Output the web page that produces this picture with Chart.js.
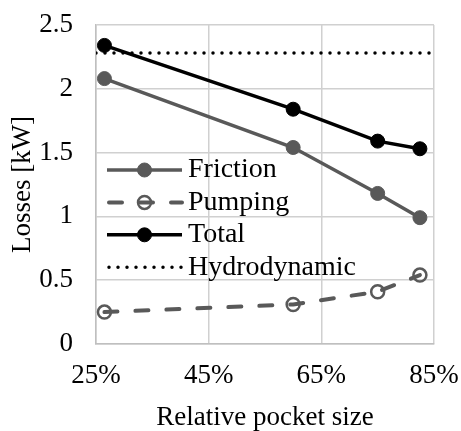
<!DOCTYPE html>
<html lang="en">
<head>
    <meta charset="UTF-8">
    <title>Losses vs relative pocket size</title>
    <style>
        html, body {
            margin: 0;
            padding: 0;
            background: #fff;
        }
        #wrap {
            width: 461px;
            height: 431px;
        }
    </style>
    <script src="https://cdn.jsdelivr.net/npm/chart.js"></script>
</head>
<body>
    <div id="wrap"><canvas id="lossChart" width="461" height="431"></canvas></div>
    <script>
        // values (x in %, y in kW)
        const pocketSize = [26.5, 60, 75, 82.5];
        const friction = [2.08, 1.54, 1.18, 0.99];
        const pumping = [0.25, 0.31, 0.41, 0.54];
        const total = [2.34, 1.84, 1.59, 1.53];
        const hydroX = [25, 85];
        const hydrodynamic = [2.28, 2.28];
        const seriesNames = ['Friction', 'Pumping', 'Total', 'Hydrodynamic'];
        const xTicks = [25, 45, 65, 85];

        const FONT = "'Liberation Serif', 'Times New Roman', serif";
        const pts = (xs, ys) => xs.map((x, i) => ({ x: x, y: ys[i] }));

        // keep the plot box where the original has it
        function noScalePadding(scale) {
            scale.paddingTop = 0;
            scale.paddingBottom = 0;
            scale.paddingLeft = 0;
            scale.paddingRight = 0;
        }

        // legend drawn inside the plot area, like the original
        const innerLegend = {
            id: 'innerLegend',
            afterDraw(chart) {
                const ctx = chart.ctx;
                const area = chart.chartArea;
                const x0 = area.left + 11;
                const x1 = x0 + 75;
                const mid = (x0 + x1) / 2;
                chart.data.datasets.forEach((ds, i) => {
                    const y = area.top + 145 + i * 32.4;
                    ctx.save();
                    ctx.strokeStyle = ds.borderColor;
                    ctx.lineWidth = ds.borderWidth;
                    ctx.lineCap = ds.borderCapStyle || 'butt';
                    ctx.setLineDash(ds.borderDash || []);
                    ctx.lineDashOffset = ds.legendDashOffset || 0;
                    ctx.beginPath();
                    ctx.moveTo(x0, y);
                    ctx.lineTo(x1, y);
                    ctx.stroke();
                    ctx.setLineDash([]);
                    if (ds.pointRadius > 0) {
                        ctx.beginPath();
                        ctx.arc(mid, y, ds.pointRadius, 0, Math.PI * 2);
                        if (ds.pointBackgroundColor !== 'transparent') {
                            ctx.fillStyle = ds.pointBackgroundColor;
                            ctx.fill();
                        }
                        ctx.lineWidth = ds.pointBorderWidth;
                        ctx.strokeStyle = ds.pointBorderColor;
                        ctx.stroke();
                    }
                    ctx.fillStyle = '#000';
                    ctx.font = '28px ' + FONT;
                    ctx.textAlign = 'left';
                    ctx.textBaseline = 'middle';
                    ctx.fillText(ds.label, x1 + 6, y);
                    ctx.restore();
                });
            }
        };

        const ctx = document.getElementById('lossChart').getContext('2d');
        const lossChart = new Chart(ctx, {
            type: 'line',
            data: {
                datasets: [{
                    label: seriesNames[0],
                    data: pts(pocketSize, friction),
                    borderColor: '#595959',
                    borderWidth: 3.5,
                    pointRadius: 7,
                    pointBackgroundColor: '#595959',
                    pointBorderColor: '#595959',
                    pointBorderWidth: 1,
                    order: 2
                }, {
                    label: seriesNames[1],
                    data: pts(pocketSize, pumping),
                    borderColor: '#595959',
                    borderWidth: 4,
                    borderDash: [13, 18],
                    borderCapStyle: 'round',
                    legendDashOffset: -2,
                    pointRadius: 6.5,
                    pointBackgroundColor: 'transparent',
                    pointBorderColor: '#595959',
                    pointBorderWidth: 2.5,
                    order: 3
                }, {
                    label: seriesNames[2],
                    data: pts(pocketSize, total),
                    borderColor: '#000000',
                    borderWidth: 3.5,
                    pointRadius: 7,
                    pointBackgroundColor: '#000000',
                    pointBorderColor: '#000000',
                    pointBorderWidth: 1,
                    order: 1
                }, {
                    label: seriesNames[3],
                    data: pts(hydroX, hydrodynamic),
                    borderColor: '#000000',
                    borderWidth: 3.5,
                    borderDash: [0, 9],
                    borderCapStyle: 'round',
                    legendDashOffset: -2,
                    pointRadius: 0,
                    order: 4
                }]
            },
            options: {
                responsive: false,
                animation: false,
                layout: {
                    padding: { top: 25, right: 27, left: 0, bottom: 0 }
                },
                plugins: {
                    legend: { display: false },
                    tooltip: { enabled: false }
                },
                scales: {
                    x: {
                        type: 'linear',
                        min: 25,
                        max: 85,
                        afterBuildTicks: (scale) => {
                            scale.ticks = xTicks.map(v => ({ value: v }));
                        },
                        afterFit: (scale) => { scale.height = 87; noScalePadding(scale); },
                        grid: { color: '#d0d0d0', lineWidth: 1.5, drawTicks: false },
                        border: { color: '#bfbfbf', width: 1.5 },
                        ticks: {
                            padding: 16,
                            color: '#000',
                            font: { family: FONT, size: 27 },
                            callback: (v) => v + '%'
                        },
                        title: {
                            display: true,
                            text: 'Relative pocket size',
                            color: '#000',
                            font: { family: FONT, size: 27, lineHeight: 1 },
                            padding: { top: 0, bottom: 0 }
                        }
                    },
                    y: {
                        min: 0,
                        max: 2.5,
                        afterFit: (scale) => { scale.width = 96; noScalePadding(scale); },
                        grid: { color: '#d0d0d0', lineWidth: 1.5, drawTicks: false },
                        border: { color: '#bfbfbf', width: 1.5 },
                        ticks: {
                            stepSize: 0.5,
                            padding: 23,
                            color: '#000',
                            font: { family: FONT, size: 27 },
                            callback: (v) => String(v)
                        },
                        title: {
                            display: true,
                            text: 'Losses [kW]',
                            color: '#000',
                            font: { family: FONT, size: 27, lineHeight: 1 },
                            padding: { top: 9, bottom: 0 }
                        }
                    }
                }
            },
            plugins: [innerLegend]
        });
    </script>
</body>
</html>
